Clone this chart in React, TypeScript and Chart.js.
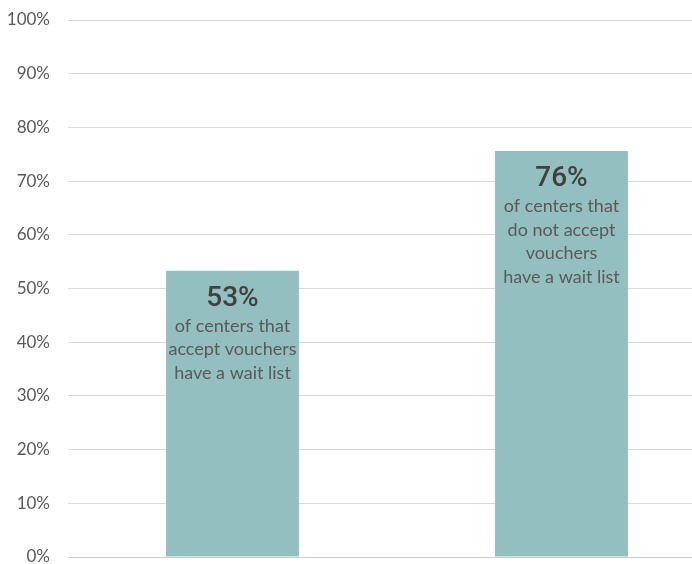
import React, { useEffect, useRef } from 'react';
import { Chart, registerables } from 'chart.js';

Chart.register(...registerables);

const categories = ['Accept vouchers', 'Do not accept vouchers'];
const categoryPositions = [1, 2];
const waitListPct = [53.3, 75.6];
const descriptions = [
  ['of centers that', 'accept vouchers', 'have a wait list'],
  ['of centers that', 'do not accept', 'vouchers', 'have a wait list'],
];
const yMin = 0;
const yMax = 100;
const yStep = 10;

const FONT = 'Lato, "Open Sans", sans-serif';

const barLabelPlugin = {
  id: 'barLabels',
  afterDatasetsDraw(chart: any) {
    const ctx = chart.ctx;
    const meta = chart.getDatasetMeta(0);
    meta.data.forEach((el: any, i: number) => {
      const x = el.x;
      const top = el.y;
      ctx.save();
      ctx.textAlign = 'center';
      ctx.textBaseline = 'middle';
      ctx.fillStyle = '#404040';
      ctx.font = `500 28px Roboto, sans-serif`;
      ctx.fillText(`${Math.round(waitListPct[i])}%`, x, top + 28);
      ctx.fillStyle = '#595959';
      ctx.font = `18px ${FONT}`;
      descriptions[i].forEach((line, j) => {
        ctx.fillText(line, x, top + 55 + j * 23.7);
      });
      ctx.restore();
    });
  },
};

export default function App() {
  const ref = useRef<HTMLCanvasElement>(null);
  useEffect(() => {
    if (!ref.current) return;
    const chart = new Chart(ref.current, {
      type: 'bar',
      data: {
        labels: categories,
        datasets: [
          {
            label: 'Wait list',
            data: categoryPositions.map((x, i) => ({ x, y: waitListPct[i] })) as any,
            backgroundColor: '#93bfc0',
            borderWidth: 0,
            barPercentage: 0.404,
            categoryPercentage: 1,
          },
        ],
      },
      options: {
        animation: false,
        responsive: true,
        maintainAspectRatio: false,
        layout: { padding: { top: 20, bottom: 7, left: 0, right: 0 } },
        plugins: {
          legend: { display: false },
          tooltip: { enabled: false },
          title: { display: false },
        },
        scales: {
          x: {
            type: 'linear',
            min: 0.5,
            max: 2.3967,
            offset: false,
            display: false,
            afterBuildTicks: (s: any) => {
              s.ticks = categoryPositions.map((v) => ({ value: v }));
            },
          },
          y: {
            min: yMin,
            max: yMax,
            afterFit: (s: any) => {
              s.width = 68;
              s.paddingTop = 0;
              s.paddingBottom = 0;
            },
            ticks: {
              stepSize: yStep,
              padding: 18,
              color: '#595959',
              font: { family: FONT, size: 17 },
              callback: (v: any) => `${v}%`,
            },
            grid: {
              color: (c: any) => (c.tick && c.tick.value === 0 ? '#cfcfcf' : '#d9d9d9'),
              lineWidth: 1,
              drawTicks: false,
            },
            border: { display: false },
          },
        },
      },
      plugins: [barLabelPlugin],
    });
    return () => chart.destroy();
  }, []);
  return (
    <div style={{ position: 'fixed', left: 0, top: 0, width: 692, height: 564, background: '#fff' }}>
      <canvas ref={ref} />
    </div>
  );
}
